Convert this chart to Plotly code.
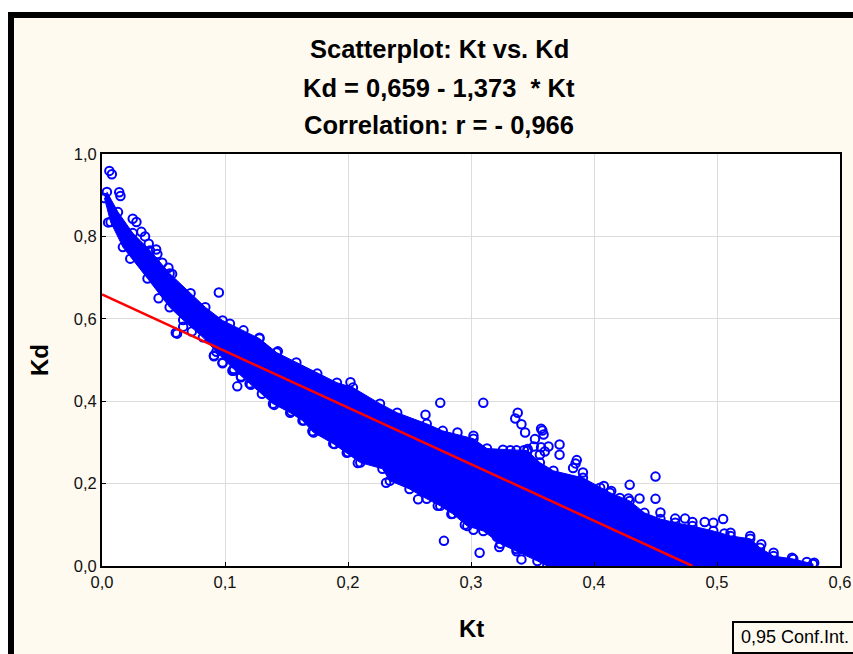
import plotly.graph_objects as go

# Regression line (Kd = 0,659 - 1,373 * Kt), read where it meets the axes
line_kt = [0.0, 0.48]
line_kd = [0.659, 0.0]

# Upper and lower edge of the dense point cloud
upper_kt = [.004,.013,.025,.039,.055,.072,.084,.098,.115,.128,.142,.158,.175,.191,.204,.226,.240,.264,.277,.302,.313,.346,.356,.367,.391,.405,.413,.429,.441,.454,.466,.480,.497,.511,.527,.535,.546,.562,.578]
upper_kd = [.908,.859,.808,.766,.710,.662,.628,.596,.572,.552,.518,.494,.467,.445,.433,.394,.372,.345,.328,.309,.285,.280,.251,.231,.214,.190,.178,.158,.129,.114,.105,.097,.085,.073,.066,.044,.024,.017,.005]
lower_kt = [.002,.007,.017,.037,.055,.066,.082,.093,.107,.120,.139,.153,.163,.172,.188,.199,.210,.228,.234,.250,.264,.275,.285,.297,.310,.324,.337,.354,.362]
lower_kd = [.893,.835,.774,.698,.628,.597,.555,.520,.478,.443,.394,.372,.353,.324,.297,.275,.251,.236,.207,.187,.163,.146,.127,.097,.085,.054,.036,.012,.0]

# Individually visible points along and beyond the cloud's edge
point_kt = [.006,.008,.014,.015,.025,.028,.032,.035,.038,.044,.045,.049,.054,.057,.095,.046,.023,.005,.061,.060,.066,.073,.091,.098,.107,.113,.128,.143,.104,
            .110,.113,.098,.091,.106,.121,.130,.140,.154,.164,.171,.189,.200,.208,.202,
            .275,.310,.338,.336,.341,.344,.357,.358,.359,.352,.351,.357,.363,.360,.356,.372,.372,.386,.385,.383,.391,.263,.289,.302,.231,.257,.278,.307,.323,.341,.337,.302,.321,.273,.284,.295,
            .326,.332,.337,.343,.346,
            .429,.450,.437,.428,.408,.414,.421,.454,.466,.474,.480,.490,.497,.505,.511,.506,.527,.536,.546,.561,.573,.579,.450]
point_kd = [.959,.951,.907,.898,.843,.835,.811,.800,.782,.768,.757,.736,.724,.709,.664,.650,.746,.834,.564,.566,.581,.569,.509,.494,.474,.460,.554,.521,.588,
            .436,.458,.492,.511,.474,.440,.418,.391,.375,.353,.327,.296,.276,.250,.446,
            .396,.396,.372,.358,.344,.324,.333,.329,.319,.308,.290,.288,.290,.278,.270,.295,.270,.257,.249,.238,.227,.367,.324,.316,.202,.162,.061,.032,.046,.016,.041,.088,.071,.146,.126,.100,
            .282,.281,.281,.281,.284,
            .197,.163,.164,.164,.194,.182,.165,.130,.115,.115,.107,.107,.105,.114,.081,.079,.073,.053,.032,.020,.010,.008,.217]

x_ticks = [0.0, 0.1, 0.2, 0.3, 0.4, 0.5, 0.6]
y_ticks = [0.0, 0.2, 0.4, 0.6, 0.8, 1.0]

W, H = 853, 654
L, R, T, B = 102, 840, 154, 566
px = lambda v: (v - L) / (W - L)
py = lambda v: (B - v) / (B - T)
CREAM, FONT = "#fffaf0", "Liberation Sans, Arial, sans-serif"
BLUE = "#0000ff"

fig = go.Figure()
fig.add_trace(go.Scatter(x=upper_kt + [.578] + lower_kt[::-1],
                         y=upper_kd + [0.0] + lower_kd[::-1],
                         mode="lines", fill="toself", fillcolor=BLUE,
                         line=dict(color=BLUE, width=1), hoverinfo="skip"))
open_marker = dict(symbol="circle-open", size=8.5, color=BLUE, line=dict(width=2, color=BLUE))
fig.add_trace(go.Scatter(x=upper_kt + lower_kt, y=upper_kd + lower_kd, mode="markers", marker=open_marker))
fig.add_trace(go.Scatter(x=point_kt, y=point_kd, mode="markers", marker=open_marker))
fig.add_trace(go.Scatter(x=line_kt, y=line_kd, mode="lines", line=dict(color="#ff0000", width=2.5)))

def rect(x0, y0, x1, y1, fill, line=None, lw=0, layer="below"):
    return dict(type="rect", xref="paper", yref="paper", x0=px(x0), x1=px(x1), y0=py(y0), y1=py(y1),
                fillcolor=fill, line=dict(color=line or fill, width=lw), layer=layer)

shapes = [
    rect(0, 0, W, 12, "#ffffff"),
    rect(0, 0, 8, H, "#ffffff"),
    rect(8, 12, W, 18, "#000000"),
    rect(8, 12, 14, H, "#000000"),
    rect(733, 622, W + 4, H - 1, CREAM, "#000000", 2, "above"),
]

def text(x, y, s, size, bold=False, angle=0, xanchor="center"):
    return dict(xref="paper", yref="paper", x=px(x), y=py(y), text=f"<b>{s}</b>" if bold else s,
                showarrow=False, xanchor=xanchor, yanchor="middle", textangle=angle,
                font=dict(family=FONT, size=size, color="#000000"))

annotations = [
    text(439, 49, "Scatterplot: Kt vs. Kd", 25.5, True),
    text(439, 88, "Kd = 0,659 - 1,373&#160;&#160;* Kt", 25.5, True),
    text(439, 125, "Correlation: r = - 0,966", 25.5, True),
    text(471, 628, "Kt", 24, True),
    text(39, 360, "Kd", 24, True, -90),
    text(851, 637, "0,95 Conf.Int.", 18, xanchor="right"),
]

axis = dict(showgrid=True, gridcolor="#dcdcdc", gridwidth=1, zeroline=False, showline=True,
            linecolor="#000000", linewidth=2, mirror=True, ticks="inside", ticklen=4,
            tickcolor="#000000", tickwidth=1, tickformat=".1f",
            tickfont=dict(family=FONT, size=16.5, color="#111111"))

fig.update_layout(
    width=W, height=H, autosize=False, showlegend=False, separators=",.",
    paper_bgcolor=CREAM, plot_bgcolor="#ffffff",
    margin=dict(l=L, r=0, t=T, b=H - B, pad=0, autoexpand=False),
    shapes=shapes, annotations=annotations,
    xaxis=dict(axis, range=[0, 0.6], tickvals=x_ticks, domain=[0, (R - L) / (W - L)]),
    yaxis=dict(axis, range=[0, 1.0], tickvals=y_ticks),
)
fig.write_html("out.html", config=dict(displayModeBar=False),
               post_script="document.body.style.margin='0';document.documentElement.style.overflow='hidden';")
